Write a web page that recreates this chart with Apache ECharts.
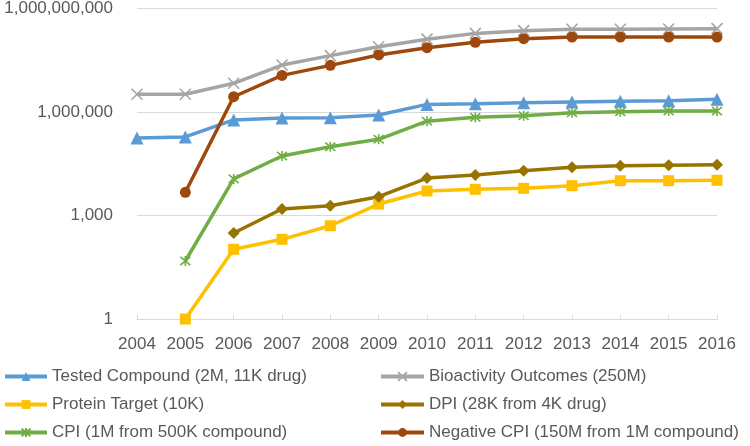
<!DOCTYPE html>
<html>
<head>
<meta charset="utf-8">
<script src="https://cdn.jsdelivr.net/npm/echarts@6/dist/echarts.min.js"></script>
<style>
  html, body { margin: 0; padding: 0; background: #ffffff; }
  #chart { width: 750px; height: 446px; }
</style>
</head>
<body>
<div id="chart"></div>
<script>
var years = ["2004", "2005", "2006", "2007", "2008", "2009", "2010", "2011", "2012", "2013", "2014", "2015", "2016"];
var yTicks = [1, 1000, 1000000, 1000000000];

var testedCompound = [175000, 190000, 590000, 670000, 680000, 820000, 1660000, 1740000, 1860000, 1950000, 2040000, 2130000, 2340000];
var bioactivity = [3270000, 3270000, 6800000, 23000000, 43000000, 78000000, 129000000, 190000000, 228000000, 250000000, 250000000, 255000000, 260000000];
var proteinTarget = [null, 1, 105, 204, 505, 2150, 5130, 5740, 6130, 7300, 10200, 10200, 10500];
var dpi = [null, null, 311, 1540, 1920, 3500, 12200, 14900, 19800, 25000, 27500, 28500, 29600];
var cpi = [null, 48, 11500, 53000, 98000, 162000, 540000, 705000, 780000, 950000, 1020000, 1070000, 1070000];
var negativeCpi = [null, 4700, 2770000, 11500000, 22500000, 45000000, 73000000, 105000000, 133000000, 149000000, 149000000, 149000000, 149000000];

var names = [
  "Tested Compound (2M, 11K drug)",
  "Bioactivity Outcomes (250M)",
  "Protein Target (10K)",
  "DPI (28K from 4K drug)",
  "CPI (1M from 500K compound)",
  "Negative CPI (150M from 1M compound)"
];

var textColor = "#595959";
var gridColor = "#d9d9d9";
var fontFamily = "'Liberation Sans', Arial, sans-serif";

var crossPath = "path://M0,0L10,10M10,0L0,10";
var starPath = "path://M0,0L10,10M10,0L0,10M5,-1L5,11";

function makeSeries(name, data, color, symbol, size, stroked) {
  return {
    name: name,
    type: "line",
    data: data,
    connectNulls: false,
    symbol: symbol,
    symbolSize: size,
    showAllSymbol: true,
    lineStyle: { color: color, width: 3.5 },
    itemStyle: stroked
      ? { color: color, borderColor: color, borderWidth: 1.6 }
      : { color: color, borderWidth: 0 },
    emphasis: { disabled: true },
    animation: false
  };
}

function makeLegend(left, width, items) {
  return {
    orient: "vertical",
    left: left,
    top: 368,
    padding: 0,
    itemGap: 11,
    itemWidth: width,
    itemHeight: 11,
    data: items,
    lineStyle: { width: 4 },
    textStyle: { color: textColor, fontSize: 17, fontFamily: fontFamily }
  };
}

var chart = echarts.init(document.getElementById("chart"), null, { renderer: "canvas" });

chart.setOption({
  backgroundColor: "#ffffff",
  animation: false,
  textStyle: { fontFamily: fontFamily },
  grid: { left: 137, right: 33, top: 8.5, bottom: 127 },
  legend: [
    makeLegend(3, 42, [names[0], names[2], names[4]]),
    makeLegend(379, 43, [names[1], names[3], names[5]])
  ],
  xAxis: {
    type: "category",
    data: years,
    boundaryGap: false,
    axisLine: { lineStyle: { color: gridColor, width: 1 } },
    axisTick: { show: true, inside: true, length: 4, alignWithLabel: true, lineStyle: { color: gridColor } },
    axisLabel: { color: textColor, fontSize: 17, margin: 17, interval: 0 },
    splitLine: { show: false }
  },
  yAxis: {
    type: "log",
    logBase: 1000,
    min: yTicks[0],
    max: yTicks[yTicks.length - 1],
    axisLine: { show: false },
    axisTick: { show: false },
    axisLabel: {
      color: textColor,
      fontSize: 17,
      margin: 24,
      formatter: function (value) {
        return Number(value).toLocaleString("en-US");
      }
    },
    splitLine: { lineStyle: { color: gridColor, width: 1 } }
  },
  series: [
    makeSeries(names[0], testedCompound, "#5B9BD5", "triangle", 13, false),
    makeSeries(names[1], bioactivity, "#A5A5A5", crossPath, 11, true),
    makeSeries(names[2], proteinTarget, "#FFC000", "rect", 11, false),
    makeSeries(names[3], dpi, "#997300", "diamond", 12, false),
    makeSeries(names[4], cpi, "#70AD47", starPath, 10, true),
    makeSeries(names[5], negativeCpi, "#9E480E", "circle", 11, false)
  ]
});
</script>
</body>
</html>
